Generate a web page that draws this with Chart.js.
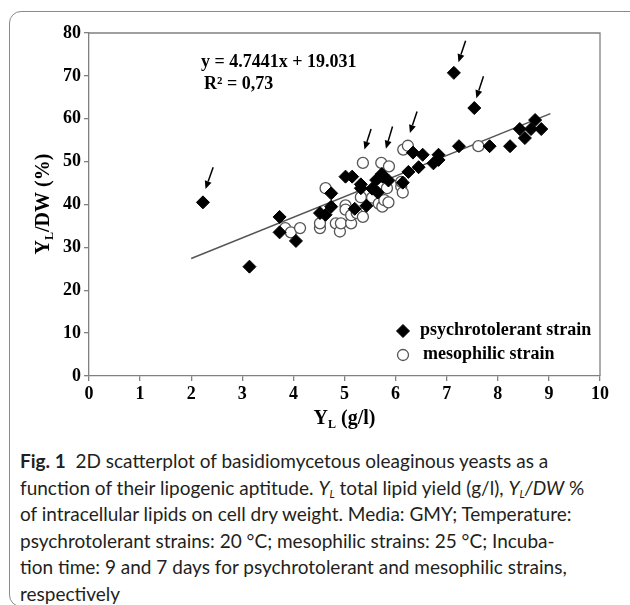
<!DOCTYPE html>
<html>
<head>
<meta charset="utf-8">
<title>Fig. 1</title>
<script src="https://cdn.jsdelivr.net/npm/chart.js@4.4.0/dist/chart.umd.min.js"></script>
<style>
  body { margin: 0; background: #fff; width: 630px; height: 605px; overflow: hidden; position: relative; }
  #frame { position: absolute; left: 9px; top: 11px; width: 660px; height: 596px; border: 1.5px solid #8a8a8a; border-radius: 12px; box-sizing: border-box; }
  #wrap { position: absolute; left: 0; top: 0; width: 630px; height: 440px; }
  #caption { position: absolute; left: 20px; top: 448px; font-family: Lato, sans-serif; font-size: 19px; line-height: 26.5px; color: #231f20; white-space: nowrap; }
  #caption sub { font-size: 11px; vertical-align: -3px; line-height: 0; }
</style>
</head>
<body>
<div id="frame"></div>
<div id="wrap"><canvas id="chart" width="630" height="440"></canvas></div>
<div id="caption">
  <b>Fig. 1</b>&nbsp; 2D scatterplot of basidiomycetous oleaginous yeasts as a<br>
  function of their lipogenic aptitude. <i>Y<sub>L</sub></i> total lipid yield (g/l), <i>Y<sub>L</sub>/DW</i> %<br>
  of intracellular lipids on cell dry weight. Media: GMY; Temperature:<br>
  psychrotolerant strains: 20 °C; mesophilic strains: 25 °C; Incuba-<br>
  tion time: 9 and 7 days for psychrotolerant and mesophilic strains,<br>
  respectively
</div>
<script>
// psychrotolerant strains (filled diamonds)
const psychroX = [2.23, 3.14, 3.73, 3.73, 4.05, 4.52, 4.63, 4.74, 4.74, 5.02, 5.15, 5.20, 5.32, 5.32,
  5.43, 5.54, 5.62, 5.65, 5.73, 5.75, 5.86, 6.14, 6.25, 6.34, 6.45, 6.53, 6.74, 6.84, 6.84,
  7.14, 7.24, 7.54, 7.84, 8.24, 8.43, 8.53, 8.65, 8.73, 8.85];
const psychroY = [40.5, 25.5, 37.1, 33.5, 31.5, 38.0, 37.6, 42.6, 39.5, 46.5, 46.5, 39.0, 44.7, 43.8,
  39.7, 43.7, 45.7, 42.8, 47.1, 46.5, 45.6, 45.1, 47.6, 52.1, 48.7, 51.6, 49.6, 51.6, 50.4,
  70.7, 53.6, 62.5, 53.6, 53.6, 57.6, 55.5, 57.6, 59.7, 57.6];

// mesophilic strains (open circles)
const mesoX = [3.84, 3.95, 4.13, 4.52, 4.52, 4.63, 4.83, 4.91, 4.93, 5.02, 5.02, 5.13, 5.13, 5.24,
  5.36, 5.32, 5.36, 5.54, 5.67, 5.74, 5.72, 5.78, 5.83, 5.86, 5.87, 6.11, 6.15, 6.24, 6.11, 6.14, 7.62];
const mesoY = [34.5, 33.5, 34.5, 34.5, 35.6, 43.8, 35.6, 33.7, 35.6, 39.8, 38.8, 35.6, 37.5, 38.0,
  49.7, 41.7, 37.1, 41.6, 40.2, 39.5, 49.7, 41.0, 43.8, 40.5, 48.9, 44.2, 52.8, 53.7, 45.3, 42.8, 53.6];

// regression line end points as drawn
const trendX = [2.0, 9.03];
const trendY = [27.4, 61.2];

// arrows: tail x, tail y, head x, head y (data units)
const arrows = [
  [2.43, 48.7, 2.28, 43.6],
  [5.52, 57.6, 5.39, 52.8],
  [5.94, 58.2, 5.81, 53.0],
  [6.42, 61.7, 6.28, 56.7],
  [7.37, 78.2, 7.23, 73.2],
  [7.72, 69.9, 7.58, 64.8]
];

const equationText = "y = 4.7441x + 19.031";
const r2Text = "R\u00b2 = 0,73";
const xTicks = [0, 1, 2, 3, 4, 5, 6, 7, 8, 9, 10];

const toPoints = (xs, ys) => xs.map((x, i) => ({ x: x, y: ys[i] }));

const serif = "'Liberation Serif', 'Times New Roman', serif";
const axisGray = "#808080";

// draw "Y" + subscript "L" + rest, centered at 0,0 of current transform
function drawSubText(ctx, rest, size) {
  const big = "bold " + size + "px " + serif;
  const small = "bold " + Math.round(size * 0.62) + "px " + serif;
  ctx.font = big;
  const wY = ctx.measureText("Y").width;
  const wRest = ctx.measureText(rest).width;
  ctx.font = small;
  const wL = ctx.measureText("L").width;
  let x = -(wY + wL + wRest) / 2;
  ctx.textAlign = "left";
  ctx.textBaseline = "alphabetic";
  ctx.font = big;
  ctx.fillText("Y", x, 0);
  x += wY;
  ctx.font = small;
  ctx.fillText("L", x, 4);
  x += wL;
  ctx.font = big;
  ctx.fillText(rest, x, 0);
}

const figureExtras = {
  id: "figureExtras",
  afterDraw(chart) {
    const { ctx, chartArea } = chart;
    const xs = chart.scales.x, ys = chart.scales.y;
    ctx.save();

    // top and right edges of the plot box
    ctx.strokeStyle = axisGray;
    ctx.lineWidth = 1.3;
    ctx.beginPath();
    ctx.moveTo(chartArea.left, chartArea.top);
    ctx.lineTo(chartArea.right, chartArea.top);
    ctx.lineTo(chartArea.right, chartArea.bottom);
    ctx.stroke();

    // arrows
    ctx.strokeStyle = "#000";
    ctx.fillStyle = "#000";
    ctx.lineWidth = 1.5;
    arrows.forEach(a => {
      const x1 = xs.getPixelForValue(a[0]), y1 = ys.getPixelForValue(a[1]);
      const x2 = xs.getPixelForValue(a[2]), y2 = ys.getPixelForValue(a[3]);
      const ang = Math.atan2(y2 - y1, x2 - x1);
      const hl = 8, hw = 3.5;
      const bx = x2 - hl * Math.cos(ang), by = y2 - hl * Math.sin(ang);
      ctx.beginPath();
      ctx.moveTo(x1, y1);
      ctx.lineTo(bx, by);
      ctx.stroke();
      ctx.beginPath();
      ctx.moveTo(x2, y2);
      ctx.lineTo(bx + hw * Math.sin(ang), by - hw * Math.cos(ang));
      ctx.lineTo(bx - hw * Math.sin(ang), by + hw * Math.cos(ang));
      ctx.closePath();
      ctx.fill();
    });

    // equation
    ctx.fillStyle = "#000";
    ctx.font = "bold 18px " + serif;
    ctx.textAlign = "left";
    ctx.textBaseline = "middle";
    ctx.fillText(equationText, 201, 62);
    ctx.fillText(r2Text, 204, 84);

    // legend inside the plot
    const helpers = Chart.helpers;
    const ds = chart.data.datasets;
    ctx.fillStyle = "#000";
    ctx.strokeStyle = "#000";
    ctx.lineWidth = 1;
    helpers.drawPoint(ctx, { pointStyle: "rectRot", radius: 6.5, borderWidth: 1 }, 403, 331);
    ctx.fillStyle = "#fff";
    ctx.strokeStyle = "#555";
    ctx.lineWidth = 1.3;
    helpers.drawPoint(ctx, { pointStyle: "circle", radius: 5.5, borderWidth: 1.3 }, 403, 355);
    ctx.fillStyle = "#000";
    ctx.font = "bold 18px " + serif;
    ctx.textBaseline = "middle";
    ctx.fillText(ds[0].label, 420, 330);
    ctx.fillText(ds[1].label, 423, 354);

    // axis titles with subscript L
    ctx.fillStyle = "#000";
    ctx.save();
    ctx.translate((chartArea.left + chartArea.right) / 2, 424);
    drawSubText(ctx, " (g/l)", 20);
    ctx.restore();
    ctx.save();
    ctx.translate(49, 204);
    ctx.rotate(-Math.PI / 2);
    drawSubText(ctx, "/DW (%)", 20);
    ctx.restore();

    ctx.restore();
  }
};

new Chart(document.getElementById("chart"), {
  type: "scatter",
  data: {
    datasets: [
      {
        label: "psychrotolerant strain",
        data: toPoints(psychroX, psychroY),
        pointStyle: "rectRot",
        pointRadius: 6.5,
        backgroundColor: "#000",
        borderColor: "#000",
        borderWidth: 1,
        order: 1
      },
      {
        label: "mesophilic strain",
        data: toPoints(mesoX, mesoY),
        pointStyle: "circle",
        pointRadius: 5.5,
        backgroundColor: "#fff",
        borderColor: "#555",
        borderWidth: 1.3,
        order: 2
      },
      {
        label: "trend",
        type: "line",
        data: toPoints(trendX, trendY),
        borderColor: "#555",
        borderWidth: 1.5,
        pointRadius: 0,
        fill: false,
        order: 3
      }
    ]
  },
  options: {
    responsive: false,
    animation: false,
    layout: { padding: { left: 0, top: 33, right: 30, bottom: 0 } },
    plugins: { legend: { display: false }, tooltip: { enabled: false } },
    scales: {
      x: {
        type: "linear",
        min: 0,
        max: 10,
        afterBuildTicks: scale => { scale.ticks = xTicks.map(v => ({ value: v })); },
        afterFit: scale => { scale.height = 64; },
        ticks: { color: "#000", font: { family: serif, size: 18, weight: "bold" }, padding: 3 },
        grid: { drawOnChartArea: false, tickLength: 5, color: axisGray, lineWidth: 1.3 },
        border: { color: axisGray, width: 1.3 }
      },
      y: {
        min: 0,
        max: 80,
        ticks: { stepSize: 10, color: "#000", font: { family: serif, size: 18, weight: "bold" }, padding: 3 },
        afterFit: scale => { scale.width = 89; },
        grid: { drawOnChartArea: false, tickLength: 5, color: axisGray, lineWidth: 1.3 },
        border: { color: axisGray, width: 1.3 }
      }
    }
  },
  plugins: [figureExtras]
});
</script>
</body>
</html>
